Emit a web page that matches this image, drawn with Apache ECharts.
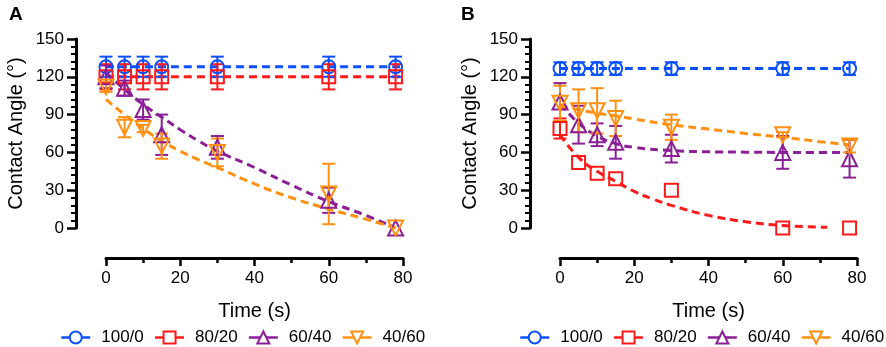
<!DOCTYPE html>
<html>
<head>
<meta charset="utf-8">
<script src="https://cdn.jsdelivr.net/npm/echarts@6/dist/echarts.min.js"></script>
<style>
html, body { margin: 0; padding: 0; background: #fff; }
#contactAngle { width: 886px; height: 347px; }
</style>
</head>
<body>
<div id="contactAngle"></div>
<script>
// sampling times (s)
var times = [0, 5, 10, 15, 30, 60, 78];
var groupNames = ['100/0', '80/20', '60/40', '40/60'];

// panel A: mean and SD
var meanA100 = [128, 128, 128, 128, 128, 128, 128];
var errA100 = [8, 8, 8, 8, 8, 8, 8];
var meanA80 = [120, 120, 120, 120, 120, 120, 120];
var errA80 = [10, 10, 10, 10, 10, 10, 10];
var meanA60 = [120, 111, 94, 74, 64, 22, 0];
var errA60 = [9, 6, 8, 16, 9, 10, 0];
var meanA40 = [112, 80, 79, 65, 60, 27, 0];
var errA40 = [4, 8, 3, 10, 11, 24, 0];

// panel A: fitted curves
var flatTimesA = [0, 80];
var fitA100 = [128, 128];
var fitA80 = [120, 120];
var fitTimesA = [0, 5, 10, 15, 20, 25, 30, 40, 50, 60, 70, 78];
var fitA60 = [123, 110, 98, 88, 78, 69, 61, 48, 34, 21, 10, 0];
var fitA40 = [102, 90, 79, 69, 61, 54, 48, 35, 24, 15, 7, 0];

// panel B: mean and SD
var meanB100 = [126.5, 126.5, 126.5, 126.5, 126.5, 126.5, 126.5];
var errB100 = [5, 5, 5, 5, 5, 5, 5];
var meanB80 = [79, 52, 43.5, 39, 30, 0, 0];
var errB80 = [8, 0, 0, 0, 0, 0, 0];
var meanB60 = [100, 82, 74, 68, 63, 60, 55];
var errB60 = [15, 15, 9, 13, 11, 13, 15];
var meanB40 = [99, 93, 93, 87, 80, 74, 65];
var errB40 = [14, 17, 18, 14, 10, 2, 5];

// panel B: fitted curves
var flatTimesB = [0, 78];
var fitB100 = [126.5, 126.5];
var fitTimesB80 = [0, 5, 10, 15, 20, 25, 30, 40, 50, 60, 72];
var fitB80 = [74, 56, 45, 37, 29, 23, 18, 10, 5, 2, 0.5];
var fitTimesB = [0, 3, 5, 10, 15, 20, 30, 40, 50, 60, 70, 78];
var fitB60 = [98, 89, 83, 73, 67, 64, 61.5, 60.5, 60.2, 60, 60, 60];
var fitB40 = [97, 95, 94, 91, 89, 86.5, 82, 78.5, 75, 72, 68.5, 66];

var colors = ['#0b50ff', '#ff1a1a', '#8a1f96', '#ff9012'];
var symbols = ['circle', 'rect', 'triangle', 'triangle'];
var symbolSizes = [13, 13, 15, 15];
var rotations = [0, 0, 0, 180];
var fontName = '"Liberation Sans", Arial, Helvetica, sans-serif';

function pairs(xs, ys) {
  return xs.map(function (x, i) { return [x, ys[i]]; });
}

function bars(xs, ms, es) {
  var out = [];
  xs.forEach(function (x, i) {
    if (es[i] > 0) out.push([x, ms[i] - es[i], ms[i] + es[i]]);
  });
  return out;
}

function renderErrorBar(params, api) {
  var lo = api.coord([api.value(0), api.value(1)]);
  var hi = api.coord([api.value(0), api.value(2)]);
  var half = 6.5;
  var style = { stroke: api.visual('color'), lineWidth: 2 };
  return {
    type: 'group',
    children: [
      { type: 'line', shape: { x1: lo[0], y1: lo[1], x2: hi[0], y2: hi[1] }, style: style },
      { type: 'line', shape: { x1: lo[0] - half, y1: lo[1], x2: lo[0] + half, y2: lo[1] }, style: style },
      { type: 'line', shape: { x1: hi[0] - half, y1: hi[1], x2: hi[0] + half, y2: hi[1] }, style: style }
    ]
  };
}

function xAxisFor(idx) {
  return {
    gridIndex: idx,
    type: 'value',
    min: 0,
    max: 80,
    interval: 20,
    offset: 30,
    name: 'Time (s)',
    nameLocation: 'middle',
    nameGap: 43,
    nameTextStyle: { color: '#000', fontSize: 20, fontFamily: fontName },
    axisLine: { show: true, onZero: false, lineStyle: { color: '#000', width: 3 } },
    axisTick: { show: true, length: 8, lineStyle: { color: '#000', width: 2.5 } },
    minorTick: { show: true, splitNumber: 2, length: 5, lineStyle: { color: '#000', width: 2.5 } },
    splitLine: { show: false },
    axisLabel: { color: '#000', fontSize: 17, margin: 12, fontFamily: fontName }
  };
}

function yAxisFor(idx) {
  return {
    gridIndex: idx,
    type: 'value',
    min: 0,
    max: 150,
    interval: 30,
    offset: 30,
    name: 'Contact Angle (°)',
    nameLocation: 'middle',
    nameGap: 50,
    nameTextStyle: { color: '#000', fontSize: 20, fontFamily: fontName },
    axisLine: { show: true, onZero: false, lineStyle: { color: '#000', width: 3 } },
    axisTick: { show: true, length: 9, lineStyle: { color: '#000', width: 2.5 } },
    minorTick: { show: true, splitNumber: 5, length: 5, lineStyle: { color: '#000', width: 2 } },
    splitLine: { show: false },
    axisLabel: { color: '#000', fontSize: 17, margin: 12, fontFamily: fontName }
  };
}

function panelSeries(idx, means, errs, fits) {
  var list = [];
  for (var g = 0; g < 4; g++) {
    var c = colors[g];
    list.push({
      type: 'line',
      smooth: true,
      xAxisIndex: idx,
      yAxisIndex: idx,
      data: pairs(fits[g][0], fits[g][1]),
      showSymbol: false,
      silent: true,
      z: 3,
      lineStyle: { color: c, width: 3, type: [8, 5] }
    });
    list.push({
      type: 'custom',
      xAxisIndex: idx,
      yAxisIndex: idx,
      data: bars(times, means[g], errs[g]),
      encode: { x: 0, y: [1, 2] },
      renderItem: renderErrorBar,
      itemStyle: { color: c },
      z: 4
    });
    list.push({
      name: groupNames[g],
      type: 'line',
      xAxisIndex: idx,
      yAxisIndex: idx,
      data: pairs(times, means[g]),
      symbol: symbols[g],
      symbolSize: symbolSizes[g],
      symbolRotate: rotations[g],
      z: 5,
      lineStyle: { color: c, opacity: 0 },
      itemStyle: { color: 'rgba(0,0,0,0)', borderColor: c, borderWidth: 2 }
    });
  }
  return list;
}

function legendFor(left) {
  return {
    data: groupNames,
    left: left,
    top: 329,
    width: 420,
    padding: 0,
    itemWidth: 29,
    itemHeight: 15,
    itemGap: 10,
    selectedMode: false,
    itemStyle: { color: '#fff' },
    lineStyle: { width: 2.5, opacity: 1 },
    textStyle: { color: '#000', fontSize: 17, fontFamily: fontName, padding: [0, 0, 0, 6] }
  };
}

var seriesA = panelSeries(0,
  [meanA100, meanA80, meanA60, meanA40],
  [errA100, errA80, errA60, errA40],
  [[flatTimesA, fitA100], [flatTimesA, fitA80], [fitTimesA, fitA60], [fitTimesA, fitA40]]);
var seriesB = panelSeries(1,
  [meanB100, meanB80, meanB60, meanB40],
  [errB100, errB80, errB60, errB40],
  [[flatTimesB, fitB100], [fitTimesB80, fitB80], [fitTimesB, fitB60], [fitTimesB, fitB40]]);

var options = {
  animation: false,
  backgroundColor: '#fff',
  textStyle: { fontFamily: fontName },
  title: [
    { text: 'A', left: 4, top: 0, textStyle: { fontSize: 19, fontWeight: 'bold', color: '#000', fontFamily: fontName } },
    { text: 'B', left: 456, top: 0, textStyle: { fontSize: 19, fontWeight: 'bold', color: '#000', fontFamily: fontName } }
  ],
  grid: [
    { left: 106, top: 39, width: 297, height: 189 },
    { left: 560, top: 39, width: 297, height: 189 }
  ],
  xAxis: [xAxisFor(0), xAxisFor(1)],
  yAxis: [yAxisFor(0), yAxisFor(1)],
  legend: [legendFor(60), legendFor(519)],
  series: seriesA.concat(seriesB)
};

var chart = echarts.init(document.getElementById('contactAngle'));
chart.setOption(options);
</script>
</body>
</html>
